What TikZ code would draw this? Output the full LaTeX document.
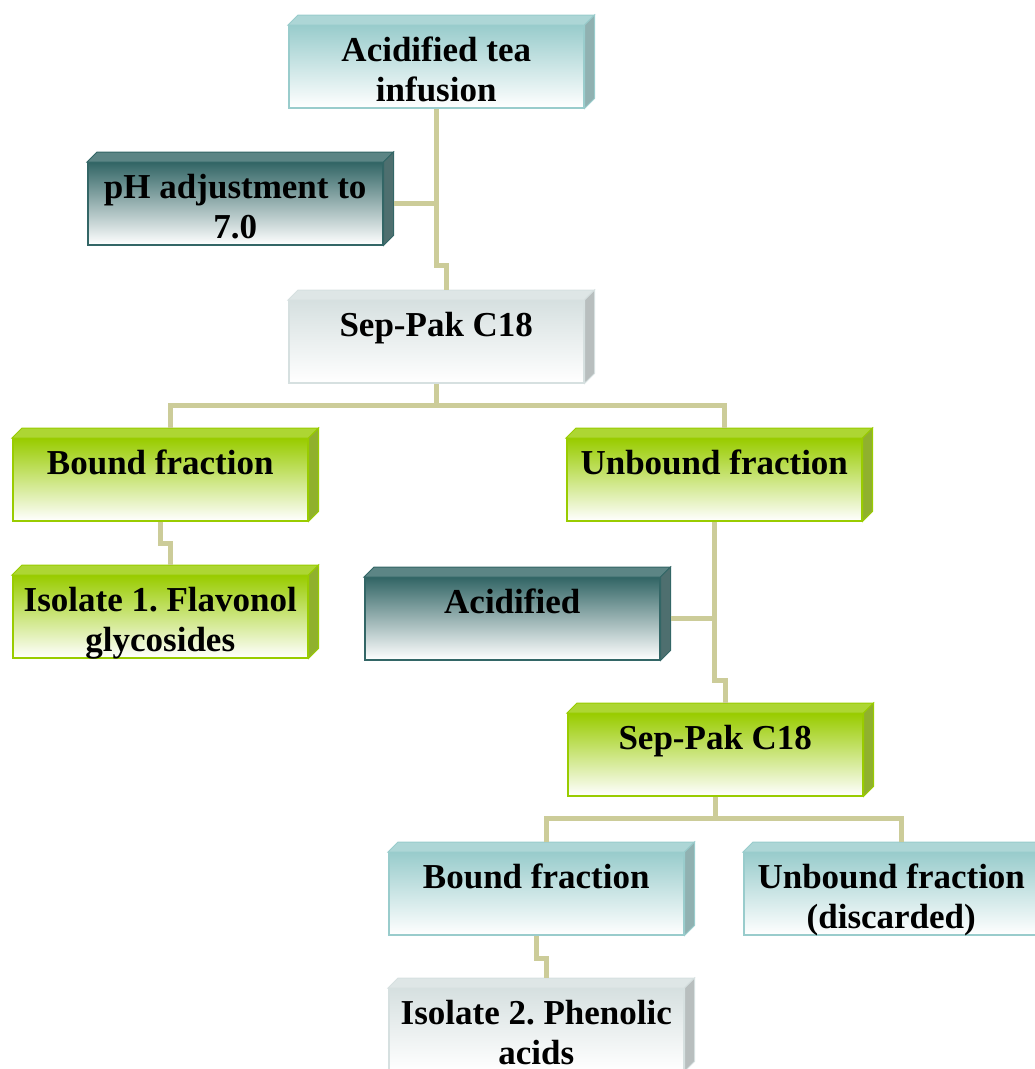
\documentclass[tikz,border=0pt]{standalone}
\usepackage{fontspec}
\setmainfont{Liberation Serif}
\frenchspacing
\usetikzlibrary{positioning}

\definecolor{tealbox}{RGB}{153,204,204}
\definecolor{darkbox}{RGB}{51,102,102}
\definecolor{greybox}{RGB}{214,224,224}
\definecolor{greenbox}{RGB}{153,204,0}
\definecolor{linkcol}{RGB}{204,204,153}

\tikzset{
  slab/.style={rectangle, draw=#1, line width=1.5pt, top color=#1, bottom color=white,
    minimum width=295pt, minimum height=82pt, inner sep=0pt, anchor=north west},
  slabtext/.style={anchor=north, yshift=-12pt, inner sep=0pt, align=center, text=black,
    font=\fontsize{35}{40}\selectfont\bfseries},
  link/.style={draw=linkcol, line width=5pt}
}

\begin{document}
\begin{tikzpicture}[x=1pt,y=-1pt]
    \useasboundingbox (0,0) rectangle (1035,1069);
    \clip (0,0) rectangle (1035,1069);

    % boxes
    \node[slab=tealbox, label={[slabtext, name=infusion-t]90:{Acidified tea\\infusion}}] (infusion) at (288,25) {};
    \node[slab=darkbox, label={[slabtext, name=ph-t]90:{pH adjustment to\\7.0}}] (ph) at (87,162) {};
    \node[slab=greybox, label={[slabtext, name=sepak1-t]90:{Sep-Pak C18}}] (sepak1) at (288,300) {};
    \node[slab=greenbox, label={[slabtext, name=bound1-t]90:{Bound fraction}}] (bound1) at (12,438) {};
    \node[slab=greenbox, label={[slabtext, name=iso1-t]90:{Isolate 1. Flavonol\\glycosides}}] (iso1) at (12,575) {};
    \node[slab=greenbox, label={[slabtext, name=unbound1-t]90:{Unbound fraction}}] (unbound1) at (566,438) {};
    \node[slab=darkbox, label={[slabtext, name=acid-t]90:{Acidified}}] (acid) at (364,577) {};
    \node[slab=greenbox, label={[slabtext, name=sepak2-t]90:{Sep-Pak C18}}] (sepak2) at (567,713) {};
    \node[slab=tealbox, label={[slabtext, name=bound2-t]90:{Bound fraction}}] (bound2) at (388,852) {};
    \node[slab=tealbox, label={[slabtext, name=discard-t]90:{Unbound fraction\\(discarded)}}] (discard) at (743,852) {};
    \node[slab=greybox, label={[slabtext, name=iso2-t]90:{Isolate 2. Phenolic\\acids}}] (iso2) at (388,988) {};

    % top and side faces
    \foreach \n/\c in {infusion/tealbox, ph/darkbox, sepak1/greybox, bound1/greenbox, iso1/greenbox,
        unbound1/greenbox, acid/darkbox, sepak2/greenbox, bound2/tealbox, discard/tealbox, iso2/greybox}{
      \filldraw[draw=\c, fill=\c!80!white, line width=1pt]
        (\n.north west) -- ++(10pt,10pt) -- ([shift={(10pt,10pt)}]\n.north east) -- (\n.north east) -- cycle;
      \filldraw[draw=\c, fill=\c!65!gray, line width=1pt]
        (\n.north east) -- ++(10pt,10pt) -- ([shift={(10pt,10pt)}]\n.south east) -- (\n.south east) -- cycle;
    }

    % connectors
    \draw[link] (infusion.south) |- ([shift={(10pt,35pt)}]sepak1.north) -- ([shift={(10pt,10pt)}]sepak1.north);
    \draw[link] ([xshift=10pt]ph.east) -- (ph.east -| infusion.south);
    \draw[link] (sepak1.south) -- ([yshift=-22pt]sepak1.south) coordinate (fork1);
    \draw[link] ([shift={(10pt,10pt)}]bound1.north) |- (fork1) -| ([shift={(10pt,10pt)}]unbound1.north);
    \draw[link] (bound1.south) |- ([shift={(10pt,32pt)}]iso1.north) -- ([shift={(10pt,10pt)}]iso1.north);
    \draw[link] (unbound1.south) |- ([shift={(10pt,33pt)}]sepak2.north) -- ([shift={(10pt,10pt)}]sepak2.north);
    \draw[link] ([xshift=10pt]acid.east) -- (acid.east -| unbound1.south);
    \draw[link] (sepak2.south) -- ([yshift=-22pt]sepak2.south) coordinate (fork2);
    \draw[link] ([shift={(10pt,10pt)}]bound2.north) |- (fork2) -| ([shift={(10pt,10pt)}]discard.north);
    \draw[link] (bound2.south) |- ([shift={(10pt,30pt)}]iso2.north) -- ([shift={(10pt,10pt)}]iso2.north);
\end{tikzpicture}
\end{document}
